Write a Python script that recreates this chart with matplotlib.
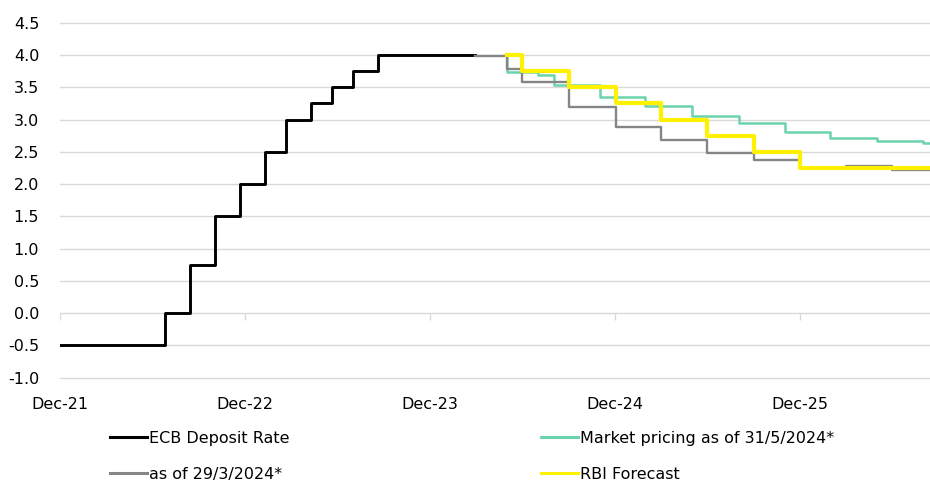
import numpy as np
import pandas as pd
import matplotlib.pyplot as plt
from matplotlib.lines import Line2D

plt.rcParams['font.family'] = ['DejaVu Sans']
plt.rcParams['axes.unicode_minus'] = False

# ECB deposit rate history
ecb_dates = ['2021-12-31', '2022-07-27', '2022-09-14', '2022-11-02', '2022-12-21',
             '2023-02-08', '2023-03-22', '2023-05-10', '2023-06-21', '2023-08-02',
             '2023-09-20', '2024-03-29']
ecb_rate = [-0.5, 0.0, 0.75, 1.5, 2.0, 2.5, 3.0, 3.25, 3.5, 3.75, 4.0, 4.0]

# market pricing as of 31/5/2024
mkt_dates = ['2024-05-31', '2024-06-01', '2024-08-01', '2024-09-01', '2024-12-01',
             '2025-03-01', '2025-06-01', '2025-09-01', '2025-12-01', '2026-03-01',
             '2026-06-01', '2026-09-01', '2026-09-30']
mkt_rate = [4.0, 3.74, 3.69, 3.53, 3.35, 3.21, 3.06, 2.94, 2.81, 2.72, 2.67, 2.63, 2.63]

# market pricing as of 29/3/2024
old_dates = ['2024-03-29', '2024-05-01', '2024-06-01', '2024-07-01', '2024-10-01',
             '2025-01-01', '2025-04-01', '2025-07-01', '2025-10-01', '2026-01-01',
             '2026-04-01', '2026-07-01', '2026-09-30']
old_rate = [3.99, 3.98, 3.78, 3.58, 3.19, 2.89, 2.69, 2.48, 2.37, 2.25, 2.28, 2.22, 2.22]

# RBI forecast
rbi_dates = ['2024-05-31', '2024-07-01', '2024-10-01', '2025-01-01', '2025-04-01',
             '2025-07-01', '2025-10-01', '2026-01-01', '2026-09-30']
rbi_rate = [4.0, 3.75, 3.5, 3.25, 3.0, 2.75, 2.5, 2.25, 2.25]

tick_dates = ['2021-12-31', '2022-12-31', '2023-12-31', '2024-12-31', '2025-12-31']
tick_labels = ['Dec-21', 'Dec-22', 'Dec-23', 'Dec-24', 'Dec-25']
y_ticks = np.arange(-1.0, 4.51, 0.5)

c_ecb = '#000000'
c_mkt = '#6AD4AC'
c_old = '#858585'
c_rbi = '#FFF200'
c_grid = '#D9D9D9'

fig = plt.figure(figsize=(9.3, 4.84), dpi=100)
ax = fig.add_axes([60 / 930, 1 - 377.7 / 484, 870 / 930, 355 / 484])

ax.plot(pd.to_datetime(ecb_dates), ecb_rate, drawstyle='steps-post', color=c_ecb, lw=2.1, zorder=3)
ax.plot(pd.to_datetime(mkt_dates), mkt_rate, drawstyle='steps-post', color=c_mkt, lw=1.8, zorder=4)
ax.plot(pd.to_datetime(old_dates), old_rate, drawstyle='steps-post', color=c_old, lw=1.7, zorder=5)
ax.plot(pd.to_datetime(rbi_dates), rbi_rate, drawstyle='steps-post', color=c_rbi, lw=3.0, zorder=6)

ax.set_xlim(pd.Timestamp('2021-12-31'), pd.Timestamp('2026-09-14'))
ax.set_ylim(-1.0, 4.5)
ax.set_yticks(y_ticks)
ax.set_yticklabels(['%.1f' % v for v in y_ticks])
ax.set_xticks(pd.to_datetime(tick_dates))
ax.set_xticklabels(tick_labels)
ax.grid(axis='y', color=c_grid, lw=1.0)
for gl in ax.get_ygridlines():
    gl.set_clip_on(False)
ax.set_axisbelow(True)
for s in ax.spines.values():
    s.set_visible(False)
ax.tick_params(axis='both', length=0, labelsize=11.5, colors='black')
ax.tick_params(axis='y', pad=15)
ax.tick_params(axis='x', pad=14)

# small tick marks sitting on the zero line
ax.vlines(pd.to_datetime(tick_dates), -0.1, 0, color=c_grid, lw=1.0, zorder=1)

h_ecb = Line2D([], [], color=c_ecb, lw=2.2)
h_mkt = Line2D([], [], color=c_mkt, lw=2.2)
h_old = Line2D([], [], color=c_old, lw=2.2)
h_rbi = Line2D([], [], color=c_rbi, lw=2.2)

leg_kw = dict(loc='upper left', frameon=False, fontsize=11.5, handlelength=2.3,
              handletextpad=0.15, labelspacing=1.3, borderpad=0, borderaxespad=0)
fig.legend([h_ecb, h_old], ['ECB Deposit Rate', 'as of 29/3/2024*'],
           bbox_to_anchor=(110 / 930, 1 - 431 / 484), **leg_kw)
fig.legend([h_mkt, h_rbi], ['Market pricing as of 31/5/2024*', 'RBI Forecast'],
           bbox_to_anchor=(541 / 930, 1 - 431 / 484), **leg_kw)

fig.savefig('out.png', dpi=100)
